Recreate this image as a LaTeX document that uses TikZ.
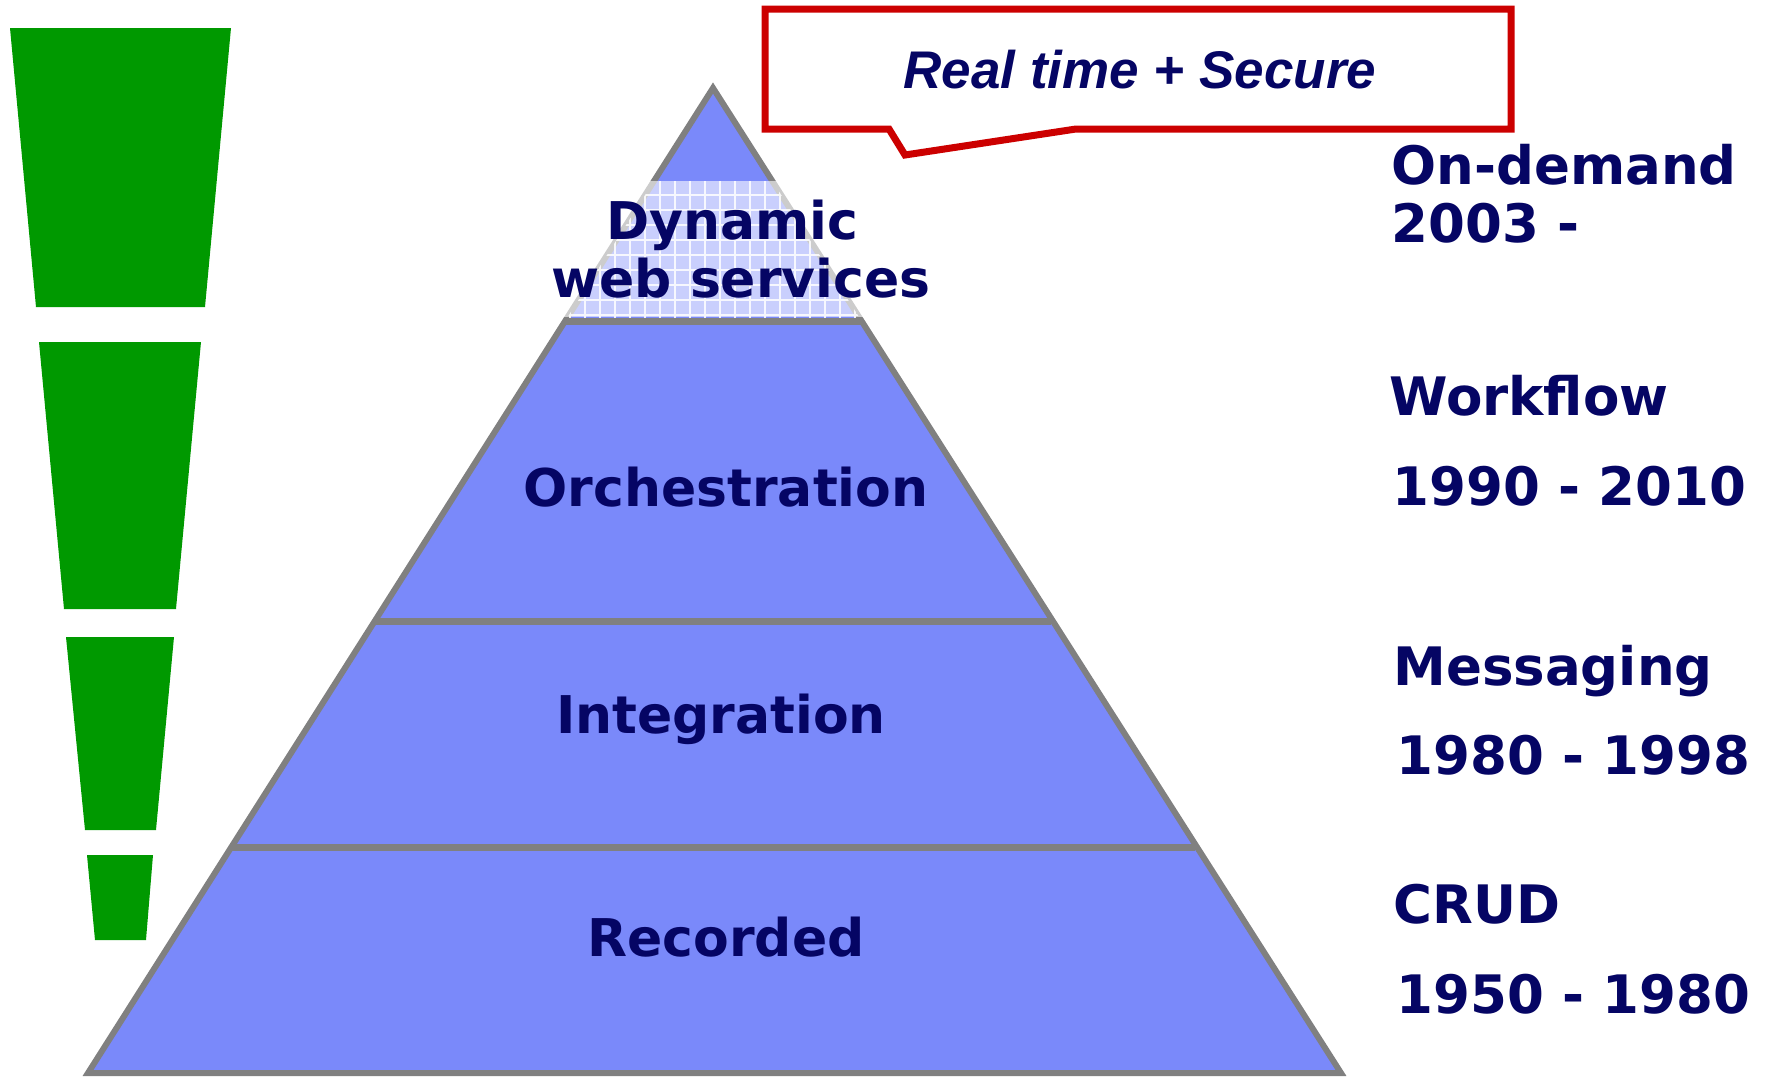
\documentclass[tikz,border=0pt]{standalone}
\usepackage{fontspec}
\setmainfont{DejaVu Sans}
\newfontfamily\calloutfont{Liberation Sans}
\begin{document}
\definecolor{navy}{RGB}{5,5,100}
\definecolor{layer}{RGB}{122,137,250}
\definecolor{edge}{RGB}{128,128,128}
\definecolor{bar}{RGB}{0,153,0}
\definecolor{callred}{RGB}{204,0,0}
\begin{tikzpicture}[x=0.5pt,y=-0.5pt,
  layertext/.style={anchor=base,inner sep=0pt,text=navy,font=\bfseries\fontsize{26}{28}\selectfont},
  eratext/.style={anchor=base west,inner sep=0pt,text=navy,font=\bfseries\fontsize{26.5}{28}\selectfont},
  barshape/.style={fill=bar,draw=none},
  outline/.style={draw=edge,line width=3pt,line join=miter},
  divider/.style={draw=edge,line width=3.5pt}]
\useasboundingbox (0,0) rectangle (1767,1077);

% green tapering bars
\fill[barshape] (10,28) -- (231,28) -- (205,307) -- (36,307) -- cycle;
\fill[barshape] (39,342) -- (201,342) -- (176,609) -- (64,609) -- cycle;
\fill[barshape] (66,637) -- (174,637) -- (156,830) -- (85,830) -- cycle;
\fill[barshape] (87,855) -- (153,855) -- (146,940) -- (95,940) -- cycle;

% pyramid
\coordinate (apex) at (713,88);
\coordinate (bl) at (88,1073);
\coordinate (br) at (1341,1073);
\fill[layer] (apex) -- (br) -- (bl) -- cycle;
\draw[outline] (apex) -- (br) -- (bl) -- cycle;
\draw[divider] (565,321) -- (861,321);
\draw[divider] (375,621) -- (1051,621);
\draw[divider] (231,847) -- (1195,847);

% light gridded panel behind the top label
\fill[white,opacity=0.6] (526,181) rectangle (958,317);
\begin{scope}
  \clip (apex) -- (br) -- (bl) -- cycle;
  \clip (526,181) rectangle (958,317);
  \draw[white,line width=0.6pt,opacity=0.85,step=7.5pt] (525,180) grid (960,320);
\end{scope}

% layer labels
\node[layertext] (dyn) at (732,239) {Dynamic};
\node[layertext] (web) at (741,297) {web services};
\node[layertext] (orch) at (726,506) {Orchestration};
\node[layertext] (integ) at (721,733) {Integration};
\node[layertext] (rec) at (726,956) {Recorded};

% callout
\draw[callred,fill=white,line width=3.5pt,line join=miter]
  (765,9) -- (1511,9) -- (1511,129) -- (1076,129) -- (905,155) -- (889,129) -- (765,129) -- cycle;
\node[anchor=base,inner sep=0pt,text=navy,font=\calloutfont\bfseries\itshape\fontsize{26.5}{28}\selectfont] (rts) at (1140,88) {Real time + Secure};

% era labels
\node[eratext] (od) at (1391,184) {On-demand};
\node[eratext] (od2) at (1391,242) {2003 -};
\node[eratext] (wf) at (1389,415) {Workflow};
\node[eratext] (wf2) at (1392,505) {1990 - 2010};
\node[eratext] (msg) at (1393,685) {Messaging};
\node[eratext] (msg2) at (1396,774) {1980 - 1998};
\node[eratext] (crud) at (1393,923) {CRUD};
\node[eratext] (crud2) at (1396,1013) {1950 - 1980};
\end{tikzpicture}
\end{document}
